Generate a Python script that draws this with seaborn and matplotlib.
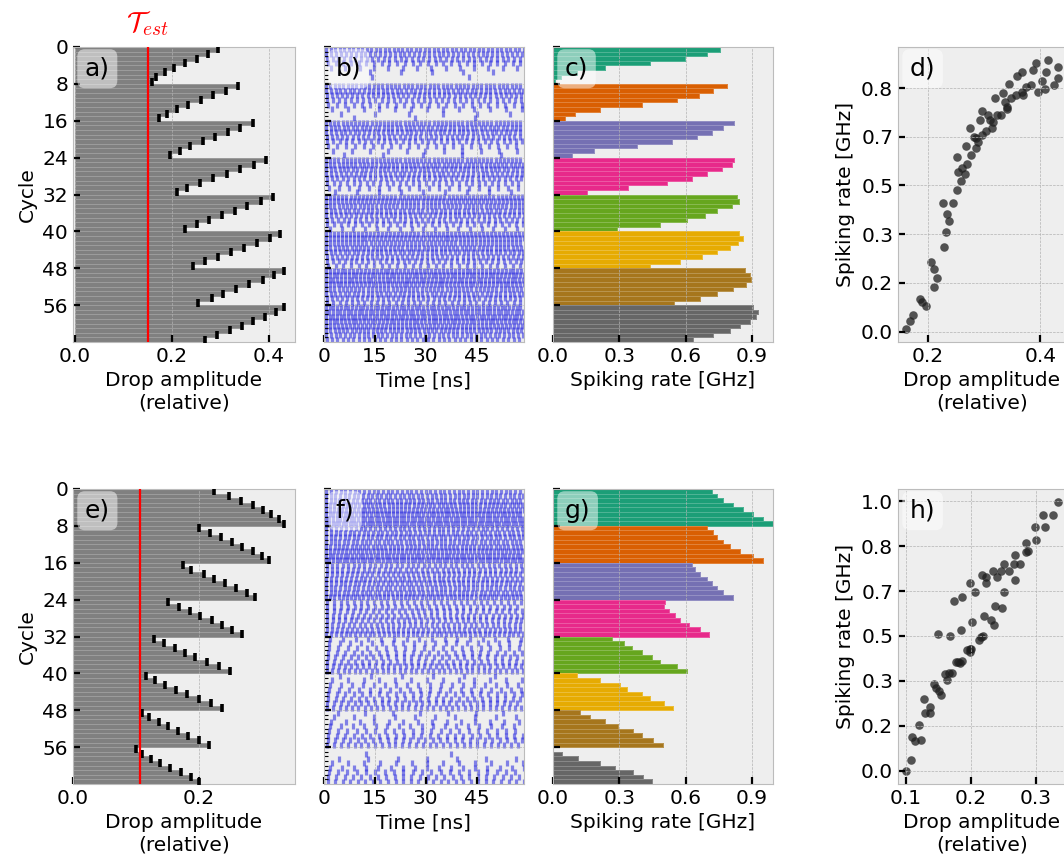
import numpy as np
import pandas as pd
import matplotlib
matplotlib.use("Agg")
import matplotlib.pyplot as plt
import matplotlib.transforms as mtransforms
import seaborn as sns

plt.style.use("bmh")
plt.rcParams.update({
    "font.family": ["DejaVu Sans"],
    "font.size": 14.5,
    "xtick.labelsize": 14.5,
    "ytick.labelsize": 14.5,
    "axes.labelsize": 14.5,
})

# ---------------- data ----------------
cycles = list(range(64))
group_names = ["G1", "G2", "G3", "G4", "G5", "G6", "G7", "G8"]
cycle_ticks = [0, 8, 16, 24, 32, 40, 48, 56]

# top row: drop amplitude per cycle (panel a)
amp_top = [0.296, 0.275, 0.251, 0.227, 0.205, 0.186, 0.168, 0.160,
           0.337, 0.311, 0.285, 0.260, 0.234, 0.210, 0.190, 0.174,
           0.368, 0.340, 0.315, 0.289, 0.265, 0.238, 0.216, 0.196,
           0.395, 0.369, 0.340, 0.313, 0.285, 0.258, 0.232, 0.210,
           0.409, 0.384, 0.356, 0.330, 0.304, 0.277, 0.251, 0.228,
           0.424, 0.402, 0.375, 0.348, 0.322, 0.296, 0.269, 0.244,
           0.432, 0.410, 0.387, 0.359, 0.333, 0.306, 0.282, 0.254,
           0.432, 0.414, 0.392, 0.368, 0.344, 0.320, 0.293, 0.268]
# top row: spiking rate per cycle [GHz] (panel c)
rate_top = [0.756, 0.695, 0.598, 0.440, 0.237, 0.110, 0.035, 0.010,
            0.786, 0.723, 0.662, 0.560, 0.402, 0.214, 0.100, 0.056,
            0.820, 0.768, 0.718, 0.650, 0.538, 0.380, 0.184, 0.086,
            0.820, 0.808, 0.763, 0.695, 0.628, 0.515, 0.340, 0.154,
            0.830, 0.843, 0.808, 0.740, 0.688, 0.605, 0.485, 0.290,
            0.843, 0.858, 0.838, 0.800, 0.740, 0.673, 0.575, 0.440,
            0.868, 0.890, 0.894, 0.873, 0.816, 0.740, 0.665, 0.545,
            0.906, 0.928, 0.920, 0.890, 0.846, 0.800, 0.725, 0.635]
# bottom row: drop amplitude per cycle (panel e)
amp_bot = [0.224, 0.247, 0.267, 0.285, 0.301, 0.314, 0.326, 0.335,
           0.199, 0.217, 0.235, 0.252, 0.268, 0.285, 0.299, 0.311,
           0.174, 0.187, 0.207, 0.224, 0.241, 0.259, 0.276, 0.288,
           0.150, 0.168, 0.185, 0.202, 0.220, 0.237, 0.252, 0.268,
           0.129, 0.144, 0.161, 0.177, 0.194, 0.213, 0.231, 0.249,
           0.115, 0.130, 0.146, 0.163, 0.180, 0.199, 0.219, 0.236,
           0.110, 0.121, 0.137, 0.151, 0.167, 0.183, 0.199, 0.216,
           0.100, 0.109, 0.123, 0.138, 0.154, 0.171, 0.187, 0.200]
# bottom row: spiking rate per cycle [GHz] (panel g)
rate_bot = [0.718, 0.740, 0.768, 0.813, 0.858, 0.906, 0.948, 0.996,
            0.695, 0.725, 0.740, 0.768, 0.800, 0.846, 0.906, 0.948,
            0.628, 0.643, 0.665, 0.695, 0.718, 0.740, 0.768, 0.816,
            0.508, 0.500, 0.523, 0.553, 0.575, 0.613, 0.665, 0.707,
            0.267, 0.320, 0.357, 0.402, 0.447, 0.485, 0.560, 0.605,
            0.109, 0.214, 0.305, 0.335, 0.402, 0.440, 0.500, 0.542,
            0.123, 0.168, 0.235, 0.295, 0.363, 0.401, 0.453, 0.498,
            0.000, 0.040, 0.115, 0.213, 0.280, 0.363, 0.408, 0.450]

t_est_top = 0.150
t_est_bot = 0.106
t_window = 59.0   # recording window of the raster [ns]

group_of = [group_names[c // 8] for c in cycles]
palette = sns.color_palette("Dark2", 8)

# ---------------- figure ----------------
W, H = 1064, 865
fig = plt.figure(figsize=(W / 100, H / 100), dpi=100)


def add_ax(x0, y0, x1, y1):
    return fig.add_axes([x0 / W, 1 - y1 / H, (x1 - x0) / W, (y1 - y0) / H])


rows = [(47, 342), (489, 784)]
cols = [(73, 295), (324, 524), (553, 773), (898, 1066)]


def panel_label(ax, s):
    ax.annotate(s, xy=(0, 1), xycoords="axes fraction", xytext=(8.5, -7),
                textcoords="offset points", ha="left", va="top", fontsize=18,
                bbox=dict(boxstyle="round,pad=0.3", fc="white", alpha=0.5, ec="none"),
                zorder=10)


def style_cycle_axis(ax, labels=True):
    ax.set_ylim(63.5, -0.5)
    ax.set_yticks([c - 0.5 for c in cycle_ticks])
    if labels:
        ax.set_yticklabels([str(c) for c in cycle_ticks])
        ax.set_ylabel("Cycle")
    else:
        ax.set_yticklabels([])
        ax.set_ylabel("")


def ticks_in(ax):
    ax.tick_params(which="major", direction="in", length=5, width=1.6, color="black")
    ax.tick_params(which="minor", direction="in", length=3, width=0.8, color="black")


def seal_bars(ax):
    # pixel-snapped bars so rows join, with a faint light seam between rows
    for p in ax.patches:
        p.set_antialiased(False)
        p.set_edgecolor((1, 1, 1, 0.22))
        p.set_linewidth(0.6)


def amp_panel(ax, amp, t_est, label, xlim, xticks, show_T):
    df = pd.DataFrame({"cycle": cycles, "amp": amp})
    sns.barplot(data=df, x="amp", y="cycle", orient="h", color="#808080",
                saturation=1, width=1, errorbar=None, ax=ax)
    seal_bars(ax)
    sns.scatterplot(data=df, x="amp", y="cycle", marker="|", color="black",
                    s=28, linewidth=2.6, ax=ax, zorder=3, legend=False)
    ax.axvline(t_est, color="red", lw=1.6, zorder=4)
    ax.set_xlim(*xlim)
    ax.set_xticks(xticks)
    ax.set_xticklabels([f"{v:.1f}" for v in xticks])
    ax.set_xlabel("Drop amplitude\n(relative)")
    style_cycle_axis(ax, True)
    ticks_in(ax)
    panel_label(ax, label)
    if show_T:
        tr = mtransforms.blended_transform_factory(ax.transData, ax.transAxes)
        ax.text(t_est, 1.03, r"$\mathcal{T}_{est}$", transform=tr, color="red",
                ha="center", va="bottom", fontsize=20)


def raster_panel(ax, rate, label):
    ts, rs = [], []
    for c, r in zip(cycles, rate):
        if r <= 0.02:
            continue
        t = np.arange(0.5 / r, t_window, 1.0 / r)
        ts.extend(t)
        rs.extend([c] * len(t))
    sns.scatterplot(x=ts, y=rs, marker="|", color="#2626e0", s=22,
                    linewidth=2.3, alpha=0.55, ax=ax, legend=False)
    ax.set_xlim(0, t_window)
    ax.set_xticks([0, 15, 30, 45])
    ax.set_xlabel("Time [ns]")
    style_cycle_axis(ax, False)
    ax.set_yticks([c - 0.5 for c in cycles], minor=True)
    ax.grid(False, which="minor")
    ticks_in(ax)
    panel_label(ax, label)


def rate_panel(ax, rate, label):
    df = pd.DataFrame({"cycle": cycles, "rate": rate, "group": group_of})
    sns.barplot(data=df, x="rate", y="cycle", hue="group", hue_order=group_names,
                palette=palette, dodge=False, orient="h", saturation=1, width=1,
                errorbar=None, legend=False, ax=ax)
    seal_bars(ax)
    ax.set_xlim(0, 0.995)
    ax.set_xticks([0.0, 0.3, 0.6, 0.9])
    ax.set_xticklabels(["0.0", "0.3", "0.6", "0.9"])
    ax.set_xlabel("Spiking rate [GHz]")
    style_cycle_axis(ax, False)
    ticks_in(ax)
    panel_label(ax, label)


def scatter_panel(ax, amp, rate, label, xticks, yticks):
    sns.scatterplot(x=amp, y=rate, color="#1e1e1e", alpha=0.75, s=38,
                    linewidth=0, ax=ax, legend=False)
    ax.set_xticks(xticks)
    ax.set_xticklabels([f"{v:.1f}" for v in xticks])
    ax.set_yticks(yticks)
    ax.set_yticklabels([f"{v:.1f}" for v in yticks])
    ax.set_xlabel("Drop amplitude\n(relative)")
    ax.set_ylabel("Spiking rate [GHz]")
    ticks_in(ax)
    panel_label(ax, label)


sixths = [0, 1 / 6, 2 / 6, 3 / 6, 4 / 6, 5 / 6, 1.0]

# top row
ax_a = add_ax(cols[0][0], rows[0][0], cols[0][1], rows[0][1])
amp_panel(ax_a, amp_top, t_est_top, "a)", (-0.004, 0.454), [0.0, 0.2, 0.4], True)
ax_b = add_ax(cols[1][0], rows[0][0], cols[1][1], rows[0][1])
raster_panel(ax_b, rate_top, "b)")
ax_c = add_ax(cols[2][0], rows[0][0], cols[2][1], rows[0][1])
rate_panel(ax_c, rate_top, "c)")
ax_d = add_ax(cols[3][0], rows[0][0], cols[3][1], rows[0][1])
scatter_panel(ax_d, amp_top, rate_top, "d)", [0.2, 0.4], sixths[:6])

# bottom row
ax_e = add_ax(cols[0][0], rows[1][0], cols[0][1], rows[1][1])
amp_panel(ax_e, amp_bot, t_est_bot, "e)", (0.0, 0.352), [0.0, 0.2], False)
ax_f = add_ax(cols[1][0], rows[1][0], cols[1][1], rows[1][1])
raster_panel(ax_f, rate_bot, "f)")
ax_g = add_ax(cols[2][0], rows[1][0], cols[2][1], rows[1][1])
rate_panel(ax_g, rate_bot, "g)")
ax_h = add_ax(cols[3][0], rows[1][0], cols[3][1], rows[1][1])
scatter_panel(ax_h, amp_bot, rate_bot, "h)", [0.1, 0.2, 0.3], sixths)

fig.savefig("out.png", dpi=100, facecolor="white")
